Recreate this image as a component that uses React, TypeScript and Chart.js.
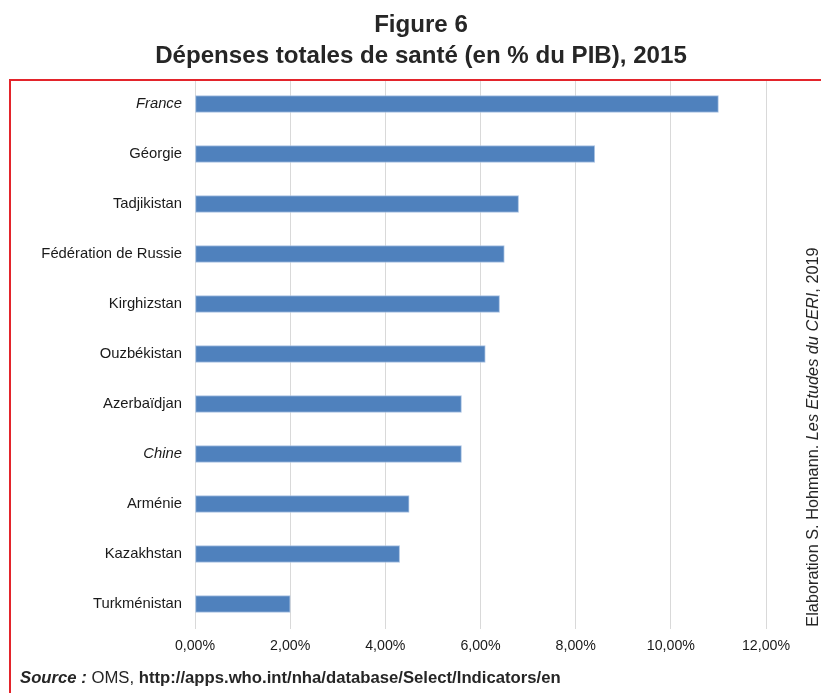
import React, { useEffect, useRef } from "react";
import { Chart, registerables } from "chart.js";

Chart.register(...registerables);

const categories = [
  "France",
  "Géorgie",
  "Tadjikistan",
  "Fédération de Russie",
  "Kirghizstan",
  "Ouzbékistan",
  "Azerbaïdjan",
  "Chine",
  "Arménie",
  "Kazakhstan",
  "Turkménistan",
];
const italicCategories = ["France", "Chine"];
const values = [11.0, 8.4, 6.8, 6.5, 6.4, 6.1, 5.6, 5.6, 4.5, 4.3, 2.0];
const xTicks = [0, 2, 4, 6, 8, 10, 12];

const FONT = '"Liberation Sans", Arial, sans-serif';

export default function App() {
  const ref = useRef<HTMLCanvasElement | null>(null);

  useEffect(() => {
    if (!ref.current) return;
    const chart = new Chart(ref.current, {
      type: "bar",
      data: {
        labels: categories,
        datasets: [
          {
            data: values,
            backgroundColor: "#4f81bd",
            borderColor: "#a9c2e2",
            borderWidth: 1,
            borderSkipped: false,
            barThickness: 17,
          },
        ],
      },
      options: {
        indexAxis: "y",
        responsive: false,
        animation: false,
        layout: { padding: { top: 79, right: 55, left: 0, bottom: 34 } },
        plugins: {
          legend: { display: false },
          tooltip: { enabled: false },
          title: { display: false },
        },
        scales: {
          x: {
            min: xTicks[0],
            max: xTicks[xTicks.length - 1],
            border: { display: false },
            grid: { color: "#d9d9d9", lineWidth: 1, drawTicks: false },
            afterFit: (s: any) => {
              s.height = 30;
            },
            afterBuildTicks: (s: any) => {
              s.ticks = xTicks.map((v) => ({ value: v }));
            },
            ticks: {
              padding: 9,
              color: "#1a1a1a",
              font: { family: FONT, size: 14.2 },
              callback: (v: any) => Number(v).toFixed(2).replace(".", ",") + "%",
            },
          },
          y: {
            border: { display: false },
            grid: { display: false, drawTicks: false },
            afterFit: (s: any) => {
              s.width = 195;
            },
            ticks: {
              padding: 13,
              color: "#1a1a1a",
              font: (ctx: any) => ({
                family: FONT,
                size: 14.8,
                style: italicCategories.includes(categories[ctx.index]) ? "italic" : "normal",
              }),
            },
          },
        },
      },
    });
    return () => chart.destroy();
  }, []);

  return (
    <div
      style={{
        position: "fixed",
        left: 0,
        top: 0,
        width: 821,
        height: 693,
        background: "#ffffff",
        overflow: "hidden",
        fontFamily: FONT,
      }}
    >
      <canvas ref={ref} width={821} height={693} style={{ position: "absolute", left: 0, top: 0 }} />
      <div
        style={{
          position: "absolute",
          left: 9,
          top: 79,
          width: 830,
          height: 700,
          borderTop: "2px solid #e3242b",
          borderLeft: "2px solid #e3242b",
          boxSizing: "border-box",
          pointerEvents: "none",
        }}
      />
      <div
        style={{
          position: "absolute",
          left: 0,
          top: 8,
          width: 842,
          textAlign: "center",
          fontWeight: "bold",
          fontSize: 24.1,
          lineHeight: "31px",
          color: "#262626",
        }}
      >
        <div>Figure 6</div>
        <div>Dépenses totales de santé (en % du PIB), 2015</div>
      </div>
      <div
        style={{
          position: "absolute",
          left: 592,
          top: 427,
          width: 440,
          height: 20,
          lineHeight: "20px",
          textAlign: "center",
          fontSize: 16.3,
          color: "#262626",
          whiteSpace: "nowrap",
          transform: "rotate(-90deg)",
          transformOrigin: "220px 10px",
        }}
      >
        Elaboration S. Hohmann. <i>Les Etudes du CERI</i>, 2019
      </div>
      <div
        style={{
          position: "absolute",
          left: 20,
          top: 668,
          lineHeight: "20px",
          fontSize: 16.7,
          color: "#262626",
          whiteSpace: "nowrap",
        }}
      >
        <b>
          <i>Source :</i>
        </b>{" "}
        OMS, <b>http://apps.who.int/nha/database/Select/Indicators/en</b>
      </div>
    </div>
  );
}
